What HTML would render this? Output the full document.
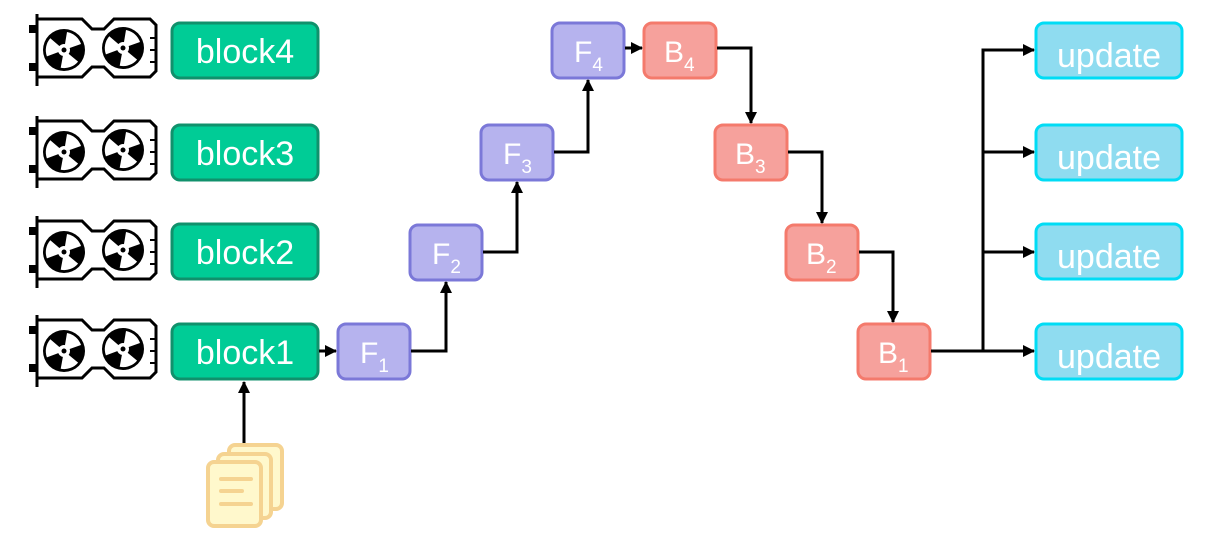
<!DOCTYPE html>
<html><head><meta charset="utf-8"><style>
html,body{margin:0;padding:0;background:#fff;}
svg{display:block;}
text{font-family:"Liberation Sans",Arial,sans-serif;fill:#fff;}
</style></head><body>
<svg width="1230" height="553" viewBox="0 0 1230 553" xmlns="http://www.w3.org/2000/svg">
<defs>
<marker id="ah" markerWidth="12" markerHeight="12" refX="11" refY="6" orient="auto" markerUnits="userSpaceOnUse">
<path d="M0,0 L12,6 L0,12 z" fill="#000"/>
</marker>
<g id="fan">
<circle r="21" fill="#000"/>
<path d="M0,0 L3,-18 A18,18 0 0 1 17,-6 z" fill="#fff"/>
<path d="M0,0 L3,-18 A18,18 0 0 1 17,-6 z" fill="#fff" transform="rotate(120)"/>
<path d="M0,0 L3,-18 A18,18 0 0 1 17,-6 z" fill="#fff" transform="rotate(240)"/>
<circle r="6" fill="#fff"/>
<circle r="2.5" fill="#000"/>
</g>
<g id="gpu">
<line x1="37" y1="-32" x2="37" y2="40" stroke="#000" stroke-width="3"/>
<rect x="29" y="-21" width="8" height="8" fill="#000"/>
<rect x="29" y="17" width="8" height="8" fill="#000"/>
<path d="M37,-27 L82,-27 L92,-17 L104,-17 L114,-27 L150,-27 L156,-21 L156,25 L150,31 L114,31 L104,21 L92,21 L82,31 L37,31" fill="none" stroke="#000" stroke-width="3"/>
<line x1="150" y1="-8" x2="156" y2="-8" stroke="#000" stroke-width="2"/>
<line x1="150" y1="4" x2="156" y2="4" stroke="#000" stroke-width="2"/>
<line x1="150" y1="16" x2="156" y2="16" stroke="#000" stroke-width="2"/>
<use href="#fan" x="64" y="4"/>
<use href="#fan" x="123" y="2"/>
</g>
</defs>

<use href="#gpu" x="0" y="46"/>
<use href="#gpu" x="0" y="148"/>
<use href="#gpu" x="0" y="248"/>
<use href="#gpu" x="0" y="347"/>

<g stroke="#10916c" stroke-width="3" fill="#00cc96">
<rect x="172" y="23" width="146" height="55" rx="8"/>
<rect x="172" y="125" width="146" height="55" rx="8"/>
<rect x="172" y="224" width="146" height="55" rx="8"/>
<rect x="172" y="324" width="146" height="55" rx="8"/>
</g>
<g font-size="34" text-anchor="middle">
<text x="245" y="63">block4</text>
<text x="245" y="165">block3</text>
<text x="245" y="264">block2</text>
<text x="245" y="364">block1</text>
</g>

<g stroke="#7b78d8" stroke-width="3" fill="#b6b3ee">
<rect x="338" y="324" width="72" height="55" rx="8"/>
<rect x="410" y="225" width="72" height="55" rx="8"/>
<rect x="481" y="125" width="72" height="55" rx="8"/>
<rect x="552" y="23" width="72" height="55" rx="8"/>
</g>
<g stroke="#f47a6c" stroke-width="3" fill="#f6a19c">
<rect x="644" y="23" width="72" height="55" rx="8"/>
<rect x="715" y="125" width="72" height="55" rx="8"/>
<rect x="786" y="225" width="72" height="55" rx="8"/>
<rect x="858" y="324" width="72" height="55" rx="8"/>
</g>
<g font-size="30">
<text x="360" y="363">F<tspan font-size="19" dy="9">1</tspan></text>
<text x="432" y="264">F<tspan font-size="19" dy="9">2</tspan></text>
<text x="503" y="164">F<tspan font-size="19" dy="9">3</tspan></text>
<text x="574" y="62">F<tspan font-size="19" dy="9">4</tspan></text>
<text x="664" y="62">B<tspan font-size="19" dy="9">4</tspan></text>
<text x="735" y="164">B<tspan font-size="19" dy="9">3</tspan></text>
<text x="806" y="264">B<tspan font-size="19" dy="9">2</tspan></text>
<text x="878" y="363">B<tspan font-size="19" dy="9">1</tspan></text>
</g>

<g stroke="#00dcf5" stroke-width="3" fill="#8fdcf0">
<rect x="1036" y="23" width="146" height="55" rx="8"/>
<rect x="1036" y="125" width="146" height="55" rx="8"/>
<rect x="1036" y="224" width="146" height="55" rx="8"/>
<rect x="1036" y="324" width="146" height="55" rx="8"/>
</g>
<g font-size="34" text-anchor="middle">
<text x="1109" y="67">update</text>
<text x="1109" y="169">update</text>
<text x="1109" y="268">update</text>
<text x="1109" y="368">update</text>
</g>

<g stroke="#000" stroke-width="3" fill="none">
<line x1="319" y1="351" x2="336" y2="351" marker-end="url(#ah)"/>
<polyline points="411,351 446,351 446,282" marker-end="url(#ah)"/>
<polyline points="483,252 517,252 517,182" marker-end="url(#ah)"/>
<polyline points="554,152 588,152 588,80" marker-end="url(#ah)"/>
<line x1="625" y1="48" x2="642" y2="48" marker-end="url(#ah)"/>
<polyline points="717,48 751,48 751,123" marker-end="url(#ah)"/>
<polyline points="788,152 822,152 822,223" marker-end="url(#ah)"/>
<polyline points="859,252 893,252 893,322" marker-end="url(#ah)"/>
<line x1="931" y1="351" x2="1034" y2="351" marker-end="url(#ah)"/>
<polyline points="983,351 983,50 1034,50" marker-end="url(#ah)"/>
<line x1="983" y1="152" x2="1034" y2="152" marker-end="url(#ah)"/>
<line x1="983" y1="252" x2="1034" y2="252" marker-end="url(#ah)"/>
<line x1="244" y1="444" x2="244" y2="382" marker-end="url(#ah)"/>
</g>

<g stroke="#f5d391" stroke-width="4" fill="#fff8cc">
<rect x="229" y="445" width="53" height="64" rx="6"/>
<rect x="218" y="454" width="53" height="64" rx="6"/>
<rect x="208" y="462" width="53" height="64" rx="6"/>
</g>
<g stroke="#f5d391" stroke-width="4" stroke-linecap="round">
<line x1="221" y1="479" x2="251" y2="479"/>
<line x1="221" y1="491" x2="242" y2="491"/>
<line x1="221" y1="504" x2="251" y2="504"/>
</g>
</svg>
</body></html>
